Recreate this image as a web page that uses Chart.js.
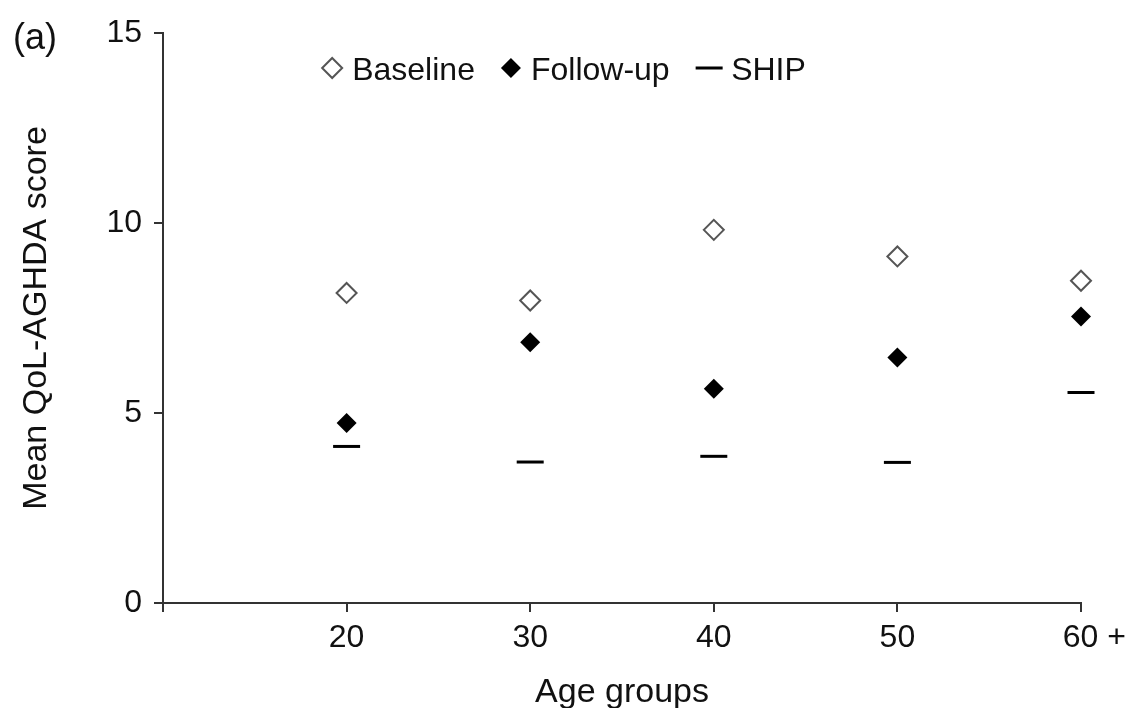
<!DOCTYPE html>
<html><head><meta charset="utf-8">
<script src="https://cdn.jsdelivr.net/npm/chart.js@4/dist/chart.umd.min.js"></script>
<style>html,body{margin:0;padding:0;background:#fff}#wrap{width:1132px;height:708px}</style>
</head><body><div id="wrap"><canvas id="c" width="1132" height="708"></canvas></div>
<script>
// ---- data ----
const ageValues = [20, 30, 40, 50, 60];
const ageLabels = ['20', '30', '40', '50', '60 +'];
const baseline = [8.16, 7.96, 9.82, 9.12, 8.48];
const followUp = [4.74, 6.86, 5.64, 6.46, 7.54];
const ship = [4.12, 3.71, 3.86, 3.70, 5.54];
const yTickValues = [0, 5, 10, 15];
const seriesNames = ['Baseline', 'Follow-up', 'SHIP'];
const panelLabel = '(a)';
const yTitle = 'Mean QoL-AGHDA score';
const xTitle = 'Age groups';

const FONT = "'Liberation Sans', Arial, Helvetica, sans-serif";
const toPts = (vals) => vals.map((v, i) => ({x: ageValues[i], y: v}));

function drawMarker(ctx, kind, cx, cy) {
  ctx.save();
  if (kind === 0 || kind === 1) {
    const r = 10;
    ctx.beginPath();
    ctx.moveTo(cx, cy - r); ctx.lineTo(cx + r, cy); ctx.lineTo(cx, cy + r); ctx.lineTo(cx - r, cy); ctx.closePath();
    if (kind === 0) { ctx.fillStyle = '#fff'; ctx.fill(); ctx.lineWidth = 2; ctx.strokeStyle = '#555'; ctx.stroke(); }
    else { ctx.fillStyle = '#000'; ctx.fill(); }
  } else {
    ctx.fillStyle = '#000';
    ctx.fillRect(cx - 13.5, cy - 1.5, 27, 3);
  }
  ctx.restore();
}

const overlayPlugin = {
  id: 'overlay',
  afterDraw(chart) {
    const ctx = chart.ctx;
    ctx.save();
    ctx.fillStyle = '#111';
    ctx.textBaseline = 'alphabetic';
    ctx.textAlign = 'left';
    ctx.font = '36px ' + FONT;
    ctx.fillText(panelLabel, 13, 49);
    // legend
    ctx.font = '32px ' + FONT;
    const halfW = [10, 10, 13.5];
    const gapText = [20, 20, 22];
    const itemGap = 26;
    const widths = seriesNames.map((n, i) => halfW[i] + gapText[i] + ctx.measureText(n).width);
    const total = widths.reduce((a, b) => a + b, 0) + itemGap * (seriesNames.length - 1);
    let x = 564 - total / 2;
    const cy = 68;
    seriesNames.forEach((n, i) => {
      const mx = x + halfW[i];
      drawMarker(ctx, i, mx, cy);
      ctx.fillStyle = '#111';
      ctx.fillText(n, mx + gapText[i], 80);
      x += widths[i] + itemGap;
    });
    ctx.restore();
  }
};

new Chart(document.getElementById('c'), {
  type: 'scatter',
  data: {
    datasets: [
      {label: seriesNames[0], data: toPts(baseline), pointStyle: 'rectRot', pointRadius: 10, pointHoverRadius: 10,
       pointBackgroundColor: '#fff', pointBorderColor: '#555', pointBorderWidth: 2, showLine: false, clip: false},
      {label: seriesNames[1], data: toPts(followUp), pointStyle: 'rectRot', pointRadius: 10, pointHoverRadius: 10,
       pointBackgroundColor: '#000', pointBorderColor: '#000', pointBorderWidth: 0, showLine: false, clip: false},
      {label: seriesNames[2], data: toPts(ship), pointStyle: 'line', pointRadius: 13.5, pointHoverRadius: 13.5,
       pointBackgroundColor: '#000', pointBorderColor: '#000', pointBorderWidth: 3, showLine: false, clip: false}
    ]
  },
  options: {
    responsive: false,
    animation: false,
    layout: {padding: {left: 0, right: 51, top: 33, bottom: 0}},
    plugins: {legend: {display: false}, tooltip: {enabled: false}},
    scales: {
      x: {
        type: 'linear', min: 10, max: 60,
        afterFit(s) { s.height = 105; s.paddingRight = 0; s.paddingLeft = 0; },
        afterBuildTicks(s) { s.ticks = [10].concat(ageValues).map(v => ({value: v})); },
        border: {display: true, color: '#333', width: 2},
        grid: {drawOnChartArea: false, drawTicks: true, tickLength: 9, color: '#333', lineWidth: 2},
        ticks: {
          autoSkip: false, maxRotation: 0, padding: 10, color: '#111',
          font: {family: FONT, size: 32, lineHeight: 1},
          callback(v) {
            const i = ageValues.indexOf(v);
            if (i < 0) return '';
            const l = ageLabels[i];
            return l.indexOf('+') >= 0 ? '   ' + l : l;
          }
        },
        title: {display: true, text: xTitle, color: '#111', font: {family: FONT, size: 34, lineHeight: 1}, padding: {top: 0, bottom: -2}}
      },
      y: {
        type: 'linear', min: 0, max: 15,
        afterFit(s) { s.width = 163; s.paddingTop = 0; s.paddingBottom = 0; },
        afterBuildTicks(s) { s.ticks = yTickValues.map(v => ({value: v})); },
        border: {display: true, color: '#333', width: 2},
        grid: {drawOnChartArea: false, drawTicks: true, tickLength: 9, color: '#333', lineWidth: 2},
        ticks: {padding: 12, color: '#111', font: {family: FONT, size: 32}},
        title: {display: true, text: yTitle, color: '#111', font: {family: FONT, size: 34, lineHeight: 1}, padding: {top: 20, bottom: 0}}
      }
    }
  },
  plugins: [overlayPlugin]
});
</script>
</body></html>
